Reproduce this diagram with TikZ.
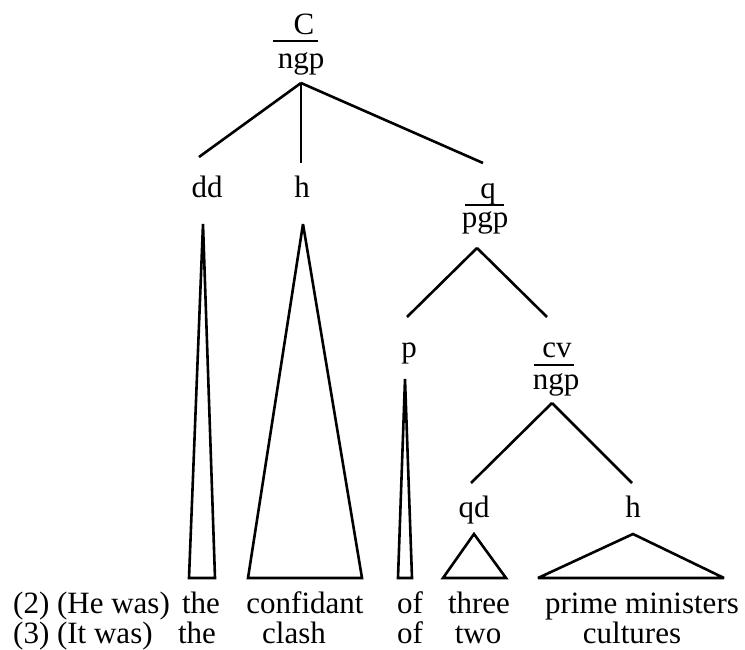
\documentclass[tikz,border=0pt]{standalone}
\usepackage{fontspec}
\setmainfont{Liberation Serif}
\begin{document}
\begin{tikzpicture}[x=1pt,y=-1pt,
  lbl/.style={inner sep=0pt, anchor=base, font=\fontsize{31}{31}\selectfont},
  rowtext/.style={lbl},
  branch/.style={line width=2.6pt, line cap=butt},
  divider/.style={line width=2.4pt},
  tri/.style={line width=2.6pt, line join=miter, miter limit=4}]
\useasboundingbox (0,0) rectangle (745,650);

% ---------- category labels ----------
\node[lbl] (C)    at (304,35)  {C};
\node[lbl] (ngpA) at (301,69)  {ngp};
\draw[divider] (273,41) -- (318,41);

\node[lbl] (dd) at (207,198) {dd};
\node[lbl] (hA) at (302,198) {h};

\node[lbl] (q)   at (488,199) {q};
\node[lbl] (pgp) at (485,228) {pgp};
\draw[divider] (465,205) -- (504,205);

\node[lbl] (p)    at (409,357) {p};
\node[lbl] (cv)   at (557,357) {cv};
\node[lbl] (ngpB) at (556,389) {ngp};
\draw[divider] (534,365) -- (574,365);

\node[lbl] (qd) at (474,517) {qd};
\node[lbl] (hB) at (633,517) {h};

% ---------- branch end points ----------
\coordinate (ngpA-bot) at (301,83);
\coordinate (dd-top)   at (199,157);
\coordinate (hA-top)   at (301,163);
\coordinate (q-top)    at (483,163);

\coordinate (pgp-bot)  at (477,248);
\coordinate (p-top)    at (407,317);
\coordinate (cv-top)   at (547,317);

\coordinate (ngpB-bot) at (552,403);
\coordinate (qd-top)   at (471,483);
\coordinate (hB-top)   at (632,483);

% ---------- branches ----------
\draw[branch] (ngpA-bot) -- (dd-top);
\draw[branch] (ngpA-bot) -- (hA-top);
\draw[branch] (ngpA-bot) -- (q-top);
\draw[branch] (pgp-bot) -- (p-top);
\draw[branch] (pgp-bot) -- (cv-top);
\draw[branch] (ngpB-bot) -- (qd-top);
\draw[branch] (ngpB-bot) -- (hB-top);

% ---------- triangles over the spans ----------
\coordinate (dd-apex) at (203,224);
\coordinate (hA-apex) at (303,224);
\coordinate (p-apex)  at (405,379);
\coordinate (qd-apex) at (474,534);
\coordinate (hB-apex) at (633,534);

\draw[tri] (dd-apex) -- (189,578) -- (215,578) -- cycle;
\draw[tri] (hA-apex) -- (248,578) -- (362,578) -- cycle;
\draw[tri] (p-apex)  -- (398,578) -- (412,578) -- cycle;
\draw[tri] (qd-apex) -- (443,578) -- (506,578) -- cycle;
\draw[tri] (hB-apex) -- (538,578) -- (724,578) -- cycle;

% ---------- example sentences ----------
\node[rowtext, anchor=base west] (ex2) at (13,613) {(2) (He was)};
\node[rowtext] (ex2a) at (201,613) {the};
\node[rowtext] (ex2b) at (305,613) {confidant};
\node[rowtext] (ex2c) at (410,613) {of};
\node[rowtext] (ex2d) at (479,613) {three};
\node[rowtext] (ex2e) at (642,613) {prime ministers};

\node[rowtext, anchor=base west] (ex3) at (13,643) {(3) (It was)};
\node[rowtext] (ex3a) at (197,643) {the};
\node[rowtext] (ex3b) at (294,643) {clash};
\node[rowtext] (ex3c) at (410,643) {of};
\node[rowtext] (ex3d) at (478,643) {two};
\node[rowtext] (ex3e) at (632,643) {cultures};
\end{tikzpicture}
\end{document}
